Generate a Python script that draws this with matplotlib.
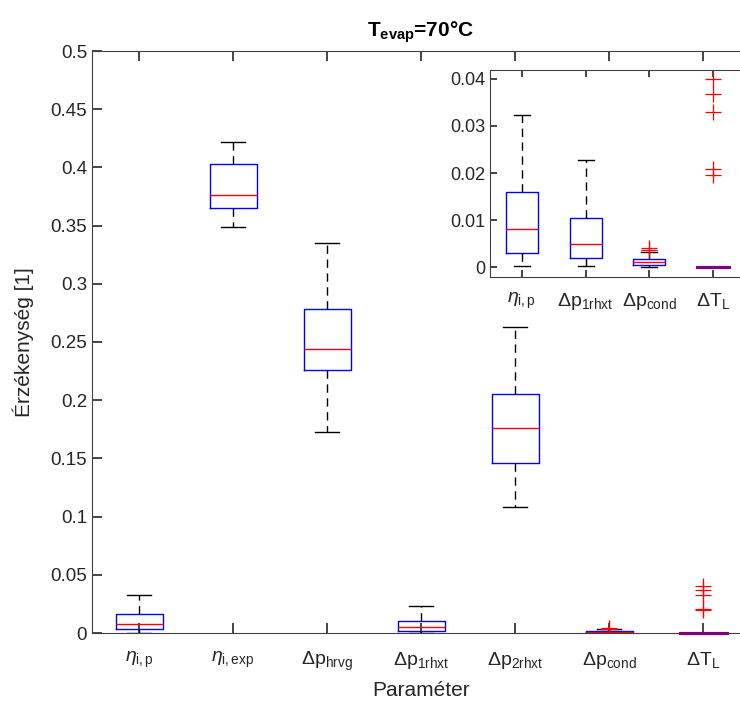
import matplotlib.pyplot as plt

plt.rcParams['font.family'] = ['Liberation Sans', 'DejaVu Sans']
plt.rcParams['mathtext.fontset'] = 'custom'
plt.rcParams['mathtext.rm'] = 'Liberation Sans'
plt.rcParams['mathtext.it'] = 'Liberation Sans:italic'
plt.rcParams['mathtext.bf'] = 'Liberation Sans:bold'

# =========================
# data
# =========================
labels = [r'$\eta_{\rm i,p}$', r'$\eta_{\rm i,exp}$', r'$\Delta{\rm p}_{\rm hrvg}$',
          r'$\Delta{\rm p}_{\rm 1rhxt}$', r'$\Delta{\rm p}_{\rm 2rhxt}$',
          r'$\Delta{\rm p}_{\rm cond}$', r'$\Delta{\rm T}_{\rm L}$']
whislo = [0.0002, 0.349, 0.173, 0.00014, 0.108, 0.0, 0.0]
q1 = [0.0031, 0.365, 0.226, 0.0020, 0.146, 0.0005, 0.0]
med = [0.0080, 0.376, 0.244, 0.0049, 0.176, 0.0010, 0.0]
q3 = [0.0160, 0.403, 0.278, 0.0105, 0.205, 0.0017, 0.0]
whishi = [0.0324, 0.422, 0.335, 0.0228, 0.263, 0.0032, 0.0]
fliers = [[], [], [], [], [], [0.0037, 0.0040],
          [0.0196, 0.0208, 0.0329, 0.0368, 0.0400]]

# inset shows parameters 1, 4, 6, 7
inset_idx = [0, 3, 5, 6]

title = r'$\mathbf{T_{evap}}$' + '=70°C'


def stats_for(idx):
    out = []
    for i in idx:
        out.append(dict(med=med[i], q1=q1[i], q3=q3[i], whislo=whislo[i],
                        whishi=whishi[i], fliers=fliers[i], label=labels[i]))
    return out


style = dict(
    widths=0.5,
    boxprops=dict(color='#0000ff', linewidth=1.0),
    medianprops=dict(color='#ff0000', linewidth=1.0),
    whiskerprops=dict(color='#000000', linewidth=1.0, linestyle=(0, (6, 4))),
    capprops=dict(color='#000000', linewidth=1.0),
    flierprops=dict(marker='+', markeredgecolor='#ff0000', markersize=11,
                    markeredgewidth=0.9, linestyle='none'),
)


def style_axes(ax):
    for s in ['left', 'bottom', 'top', 'right']:
        ax.spines[s].set_color('#404040')
        ax.spines[s].set_linewidth(0.8)
    ax.tick_params(direction='in', length=7, width=1.2, colors='#262626',
                   labelsize=13.5, top=True, right=False)


def purple_zero_box(parts):
    # the last box collapses onto zero: blue box + red median shows purple
    for key in ('medians', 'boxes'):
        line = parts[key][-1]
        line.set_color('#800080')
        line.set_linewidth(2.2)
        line.set_clip_on(False)
        line.set_zorder(5)


fig = plt.figure(figsize=(7.40, 7.11), dpi=100)

# main axes
ax = fig.add_axes([92 / 740, 78 / 711, 658 / 740, 582 / 711])
parts = ax.bxp(stats_for(range(7)), positions=range(1, 8), **style)
ax.set_xlim(0.5, 7.5)
ax.set_ylim(0, 0.5)
ax.set_yticks([0, 0.05, 0.1, 0.15, 0.2, 0.25, 0.3, 0.35, 0.4, 0.45, 0.5])
ax.set_yticklabels(['0', '0.05', '0.1', '0.15', '0.2', '0.25', '0.3', '0.35',
                    '0.4', '0.45', '0.5'])
style_axes(ax)
ax.tick_params(axis='x', pad=12, labelsize=14)
ax.set_xlabel('Paraméter', fontsize=15, color='#262626', labelpad=6)
ax.set_ylabel('Érzékenység [1]', fontsize=15, color='#262626', labelpad=12)
ax.set_title(title, fontsize=15, color='#000000', pad=10, fontweight='bold')
purple_zero_box(parts)

# inset
ins = fig.add_axes([490 / 740, 434 / 711, 255 / 740, 207 / 711])
iparts = ins.bxp(stats_for(inset_idx), positions=range(1, 5), **style)
ins.set_xlim(0.5, 4.5)
ins.set_ylim(-0.0021, 0.0419)
ins.set_yticks([0, 0.01, 0.02, 0.03, 0.04])
ins.set_yticklabels(['0', '0.01', '0.02', '0.03', '0.04'])
style_axes(ins)
ins.tick_params(length=5, labelsize=13)
ins.tick_params(axis='x', pad=10, labelsize=14)
purple_zero_box(iparts)

fig.savefig('out.png', dpi=100)
